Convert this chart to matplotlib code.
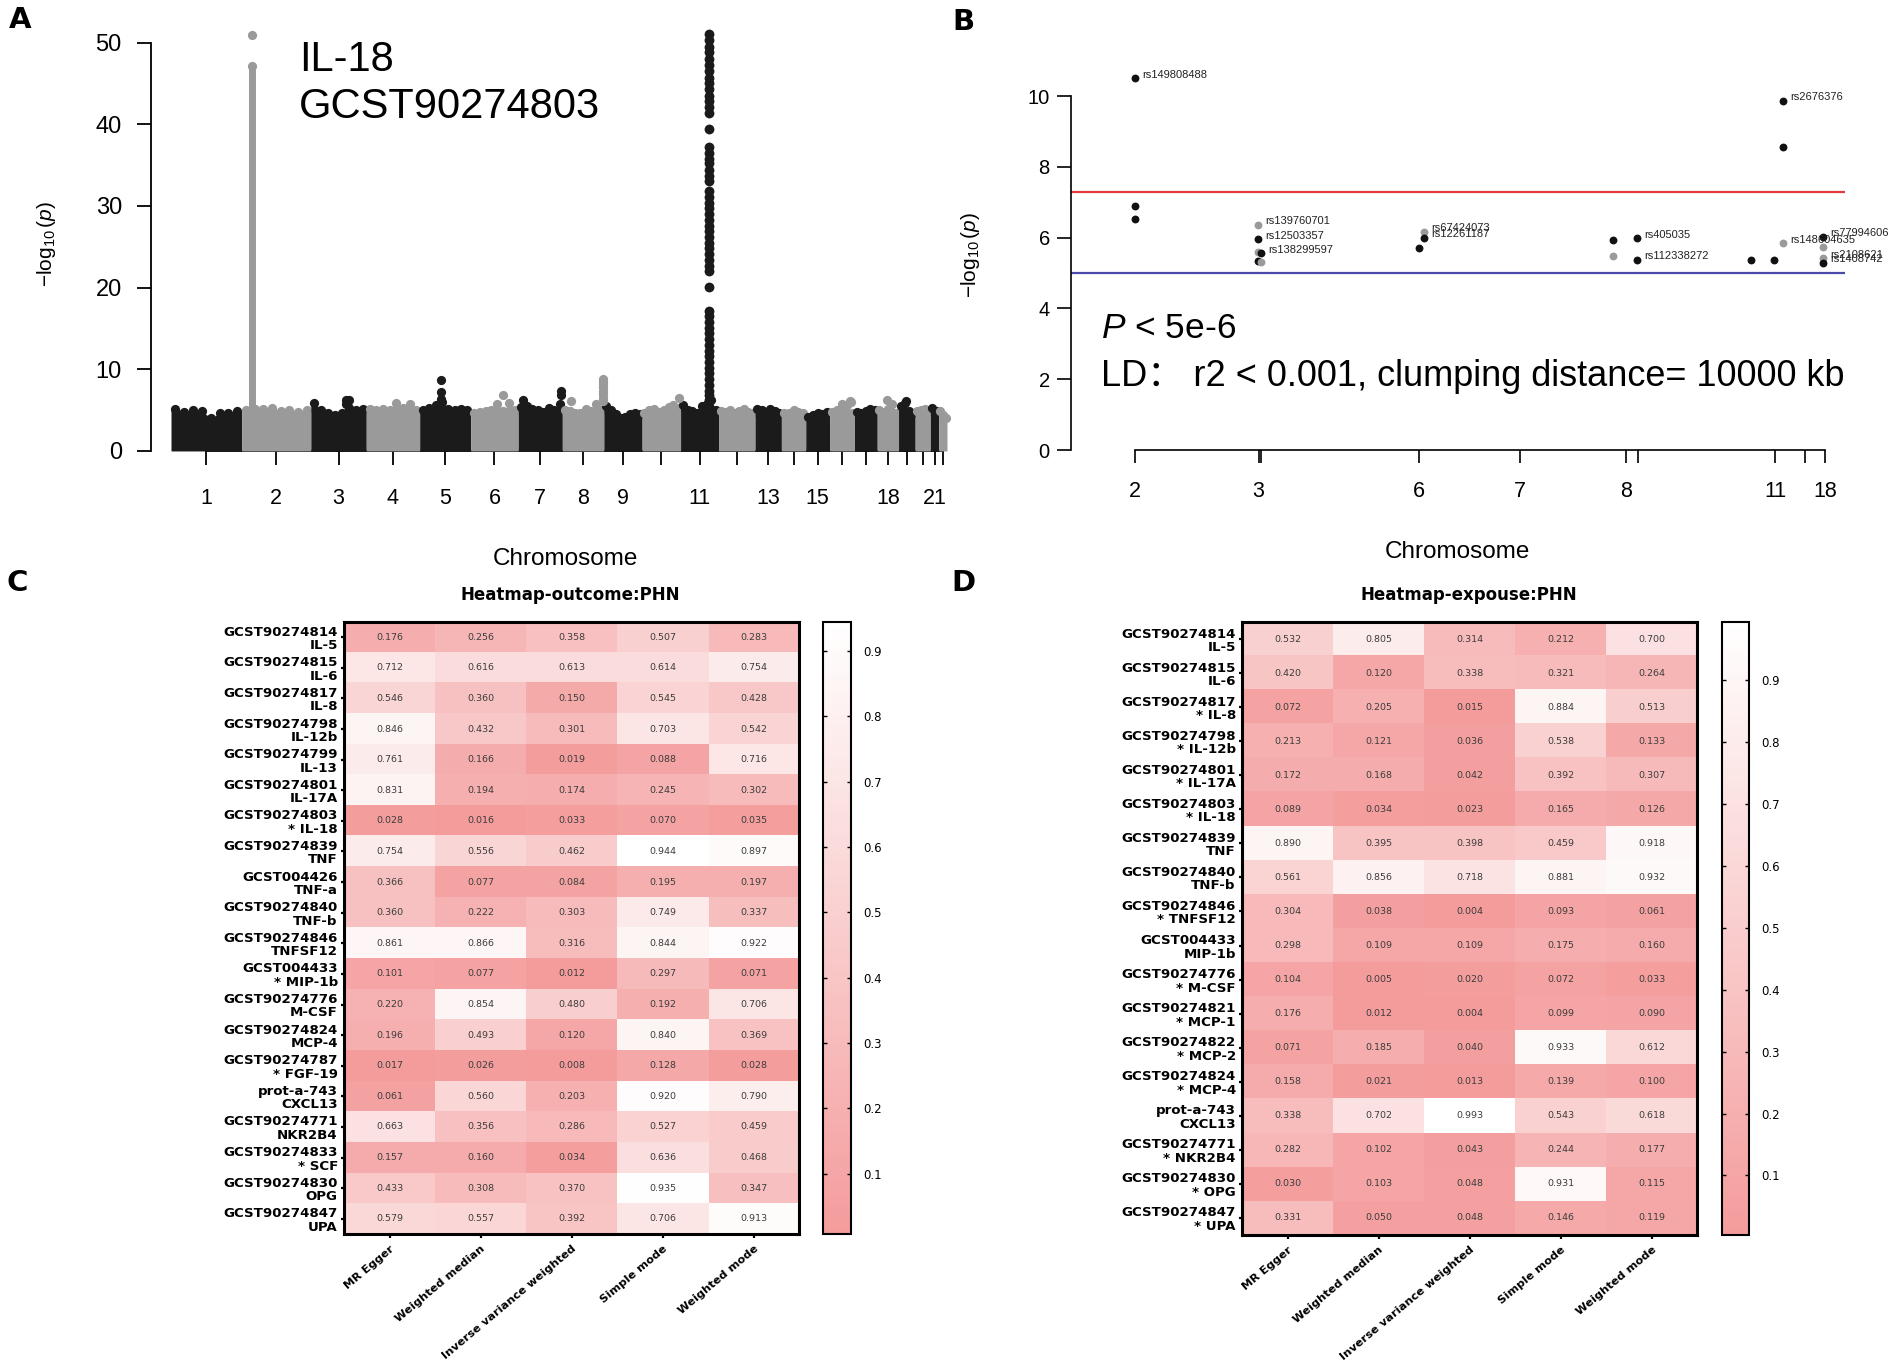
import numpy as np
import matplotlib
matplotlib.use("Agg")
import matplotlib.pyplot as plt
from matplotlib.colors import LinearSegmentedColormap

# ---------------- data ----------------
# Panel A: Manhattan plot (IL-18, GCST90274803)
chr_names = list(range(1, 23))
chr_len_mb = [255, 250, 200, 193, 184, 172, 159, 150, 138, 139, 137, 132,
              95, 88, 86, 90, 82, 77, 60, 55, 30, 30]
chr_labeled = [1, 2, 3, 4, 5, 6, 7, 8, 9, 11, 13, 15, 18, 21]
chr_envelope = [
    [5.2, 4.8, 5.0, 4.9, 4.0, 4.6, 4.7, 4.9],
    [5.0, 5.1, 5.2, 5.3, 4.9, 5.0, 4.8, 5.0],
    [5.9, 5.0, 4.6, 4.4, 4.6, 6.3, 5.0, 5.1],
    [5.1, 5.0, 5.2, 5.0, 5.9, 5.3, 5.8, 5.0],
    [5.0, 5.3, 5.6, 6.0, 5.2, 5.0, 5.1, 5.0],
    [4.7, 4.8, 4.9, 5.0, 5.7, 4.9, 5.9, 5.0],
    [5.4, 5.5, 5.2, 5.0, 4.8, 5.3, 5.0, 5.8],
    [5.0, 4.9, 4.6, 4.7, 5.2, 4.9, 5.8, 5.0],
    [5.5, 5.0, 4.5, 4.0, 4.2, 4.5, 4.7, 4.5],
    [4.6, 5.0, 5.1, 4.8, 5.0, 5.4, 5.6, 5.3],
    [5.6, 5.0, 4.9, 4.7, 5.5, 5.8, 6.2, 5.0],
    [4.9, 4.8, 5.0, 4.7, 4.9, 5.2, 4.8, 4.7],
    [5.2, 5.0, 4.8, 5.2, 4.9, 4.6],
    [4.6, 4.7, 5.0, 4.8, 4.6],
    [4.2, 4.4, 4.6, 4.5, 4.8],
    [4.8, 5.0, 5.8, 5.6, 4.6],
    [4.8, 4.6, 4.9, 5.1, 5.0],
    [5.0, 4.8, 5.2, 5.8, 4.7],
    [5.5, 5.9, 4.9, 4.6],
    [4.9, 5.0, 5.1, 4.8],
    [5.3, 4.8, 4.9],
    [4.9, 4.4, 4.0],
]
# isolated peak SNPs: chromosome, relative position within chromosome, -log10(p)
peak_chr = [3, 3, 5, 5, 5, 5, 6, 7, 7, 7, 8, 8, 8, 8, 8, 8, 8, 8, 8, 10, 16, 16, 18, 19]
peak_frac = [0.64, 0.64, 0.42, 0.42, 0.42, 0.42, 0.68, 0.11, 0.96, 0.96, 0.22,
             0.97, 0.97, 0.97, 0.97, 0.97, 0.97, 0.97, 0.97, 0.95, 0.80, 0.86, 0.45, 0.45]
peak_val = [6.3, 5.8, 8.7, 7.2, 6.4, 6.0, 6.9, 6.2, 7.3, 6.9, 6.1,
            8.8, 8.5, 8.2, 7.8, 7.4, 7.0, 6.5, 6.1, 6.5, 6.1, 6.0, 6.2, 6.1]
spike_chr, spike_frac = 2, 0.155
spike_range = [5.0, 47.1]
spike_top = [47.1, 50.9]
col_chr, col_frac = 11, 0.76
col_vals = [51.0, 50.3, 49.5, 48.8, 48.0, 47.2, 46.5, 45.7, 45.0, 44.3, 43.5, 42.8,
            42.1, 41.4, 39.4, 37.2, 36.5, 35.8, 35.2, 34.4, 33.7, 33.0,
            31.8, 31.1, 30.4, 29.7, 29.0, 28.3, 27.6, 26.9, 26.2, 25.5, 24.8, 24.1,
            23.4, 22.7, 22.0, 20.1, 17.2, 16.5, 15.8, 15.1, 14.4, 13.7, 13.0, 12.3,
            11.6, 10.9, 10.2, 9.5, 8.8, 8.1, 7.4, 6.8, 6.2]

# Panel B: clumped SNPs
b_tick_pos = [0, 123.5, 125.5, 284, 385, 491, 503, 640, 670, 690]
b_tick_lab = ["2", "3", "", "6", "7", "8", "", "11", "", "18"]
b_pos = [0, 0, 0, 123, 123, 123, 126, 123, 126, 289, 289, 284, 478, 478, 502, 502,
         616, 639, 648, 648, 648, 688, 688, 688, 688]
b_val = [10.50, 6.89, 6.52, 6.36, 5.96, 5.60, 5.56, 5.35, 5.32, 6.17, 6.00, 5.70,
         5.93, 5.48, 5.98, 5.37, 5.37, 5.37, 9.86, 8.55, 5.84, 6.03, 5.74, 5.41, 5.29]
b_gray = [0, 0, 0, 1, 0, 1, 0, 0, 1, 1, 0, 0, 0, 1, 0, 0, 0, 0, 0, 0, 1, 0, 1, 1, 0]
b_label = ["rs149808488", "", "", "rs139760701", "rs12503357", "", "rs138299597", "", "",
           "rs67424073", "rs12261187", "", "", "", "rs405035", "rs112338272",
           "", "", "rs2676376", "", "rs148604635", "rs77994606", "", "rs2108621", "rs1408742"]
genome_wide_line = 7.3
suggestive_line = 5.0

# Panel C / D heatmaps
methods = ["MR Egger", "Weighted median", "Inverse variance weighted", "Simple mode", "Weighted mode"]
c_rows = ["GCST90274814\nIL-5", "GCST90274815\nIL-6", "GCST90274817\nIL-8",
          "GCST90274798\nIL-12b", "GCST90274799\nIL-13", "GCST90274801\nIL-17A",
          "GCST90274803\n* IL-18", "GCST90274839\nTNF", "GCST004426\nTNF-a",
          "GCST90274840\nTNF-b", "GCST90274846\nTNFSF12", "GCST004433\n* MIP-1b",
          "GCST90274776\nM-CSF", "GCST90274824\nMCP-4", "GCST90274787\n* FGF-19",
          "prot-a-743\nCXCL13", "GCST90274771\nNKR2B4", "GCST90274833\n* SCF",
          "GCST90274830\nOPG", "GCST90274847\nUPA"]
c_vals = [
    [0.176, 0.256, 0.358, 0.507, 0.283],
    [0.712, 0.616, 0.613, 0.614, 0.754],
    [0.546, 0.360, 0.150, 0.545, 0.428],
    [0.846, 0.432, 0.301, 0.703, 0.542],
    [0.761, 0.166, 0.019, 0.088, 0.716],
    [0.831, 0.194, 0.174, 0.245, 0.302],
    [0.028, 0.016, 0.033, 0.070, 0.035],
    [0.754, 0.556, 0.462, 0.944, 0.897],
    [0.366, 0.077, 0.084, 0.195, 0.197],
    [0.360, 0.222, 0.303, 0.749, 0.337],
    [0.861, 0.866, 0.316, 0.844, 0.922],
    [0.101, 0.077, 0.012, 0.297, 0.071],
    [0.220, 0.854, 0.480, 0.192, 0.706],
    [0.196, 0.493, 0.120, 0.840, 0.369],
    [0.017, 0.026, 0.008, 0.128, 0.028],
    [0.061, 0.560, 0.203, 0.920, 0.790],
    [0.663, 0.356, 0.286, 0.527, 0.459],
    [0.157, 0.160, 0.034, 0.636, 0.468],
    [0.433, 0.308, 0.370, 0.935, 0.347],
    [0.579, 0.557, 0.392, 0.706, 0.913],
]
d_rows = ["GCST90274814\nIL-5", "GCST90274815\nIL-6", "GCST90274817\n* IL-8",
          "GCST90274798\n* IL-12b", "GCST90274801\n* IL-17A", "GCST90274803\n* IL-18",
          "GCST90274839\nTNF", "GCST90274840\nTNF-b", "GCST90274846\n* TNFSF12",
          "GCST004433\nMIP-1b", "GCST90274776\n* M-CSF", "GCST90274821\n* MCP-1",
          "GCST90274822\n* MCP-2", "GCST90274824\n* MCP-4", "prot-a-743\nCXCL13",
          "GCST90274771\n* NKR2B4", "GCST90274830\n* OPG", "GCST90274847\n* UPA"]
d_vals = [
    [0.532, 0.805, 0.314, 0.212, 0.700],
    [0.420, 0.120, 0.338, 0.321, 0.264],
    [0.072, 0.205, 0.015, 0.884, 0.513],
    [0.213, 0.121, 0.036, 0.538, 0.133],
    [0.172, 0.168, 0.042, 0.392, 0.307],
    [0.089, 0.034, 0.023, 0.165, 0.126],
    [0.890, 0.395, 0.398, 0.459, 0.918],
    [0.561, 0.856, 0.718, 0.881, 0.932],
    [0.304, 0.038, 0.004, 0.093, 0.061],
    [0.298, 0.109, 0.109, 0.175, 0.160],
    [0.104, 0.005, 0.020, 0.072, 0.033],
    [0.176, 0.012, 0.004, 0.099, 0.090],
    [0.071, 0.185, 0.040, 0.933, 0.612],
    [0.158, 0.021, 0.013, 0.139, 0.100],
    [0.338, 0.702, 0.993, 0.543, 0.618],
    [0.282, 0.102, 0.043, 0.244, 0.177],
    [0.030, 0.103, 0.048, 0.931, 0.115],
    [0.331, 0.050, 0.048, 0.146, 0.119],
]
cbar_ticks = [0.1, 0.2, 0.3, 0.4, 0.5, 0.6, 0.7, 0.8, 0.9]

# ---------------- style ----------------
plt.rcParams["font.family"] = ["Liberation Sans", "DejaVu Sans"]
plt.rcParams["mathtext.fontset"] = "custom"
plt.rcParams["mathtext.rm"] = "Liberation Sans"
plt.rcParams["mathtext.it"] = "Liberation Sans:italic"

W, H = 1901, 1369
fig = plt.figure(figsize=(W / 100, H / 100), dpi=100)


def fx(x):
    return x / W


def fy(y):
    return 1 - y / H


BLACK = "#1b1b1b"
GRAY = "#9a9a9a"

# ---------------- Panel A ----------------
axA = fig.add_axes([fx(151), fy(467.3), 806 / W, 441 / H])
lens = np.array(chr_len_mb, dtype=float)
starts = np.concatenate([[0], np.cumsum(lens)[:-1]])
total = lens.sum()
centers = starts + lens / 2
data_px = 806 - 20 - 10
axA.set_xlim(-total * 20 / data_px, total + total * 10 / data_px)
axA.set_ylim(-2, 52)
msA = 44
for i, env in enumerate(chr_envelope):
    col = BLACK if i % 2 == 0 else GRAY
    s, L = starts[i], lens[i]
    n = len(env)
    xs = s + (np.arange(n) + 0.5) / n * L
    xf = np.concatenate([[s], xs, [s + L]])
    yf = np.concatenate([[env[0]], env, [env[-1]]])
    axA.fill_between(xf, 0, yf, color=col, lw=0, zorder=2)
    axA.scatter(xs, env, s=msA, color=col, lw=0, zorder=2)

for c, f, v in zip(peak_chr, peak_frac, peak_val):
    col = BLACK if (c - 1) % 2 == 0 else GRAY
    axA.scatter(starts[c - 1] + f * lens[c - 1], v, s=msA, color=col, lw=0, zorder=3)

sx = starts[spike_chr - 1] + spike_frac * lens[spike_chr - 1]
axA.plot([sx, sx], spike_range, color=GRAY, lw=5, solid_capstyle="round", zorder=3)
axA.scatter([sx] * len(spike_top), spike_top, s=msA, color=GRAY, lw=0, zorder=3, clip_on=False)

cx = starts[col_chr - 1] + col_frac * lens[col_chr - 1]
axA.scatter([cx] * len(col_vals), col_vals, s=msA + 6, color=BLACK, lw=0, zorder=3, clip_on=False)

for sp in ["top", "right"]:
    axA.spines[sp].set_visible(False)
axA.spines["left"].set_bounds(0, 50)
axA.spines["bottom"].set_position(("data", 0))
axA.spines["bottom"].set_bounds(centers[0], centers[-1])
axA.spines["bottom"].set_zorder(0.5)
for sp in ["left", "bottom"]:
    axA.spines[sp].set_linewidth(1.3)
axA.set_yticks([0, 10, 20, 30, 40, 50])
axA.set_xticks(centers)
axA.set_xticklabels([str(c) if c in chr_labeled else "" for c in chr_names])
axA.tick_params(axis="y", length=10, width=1.3, pad=11, labelsize=17)
axA.tick_params(axis="x", length=10, width=1.3, pad=17, labelsize=15.5)

fig.text(fx(46), fy(244), r"$-\log_{10}(p)$", rotation=90, ha="center", va="center", fontsize=15)
fig.text(fx(565), fy(559), "Chromosome", ha="center", va="center", fontsize=17.5)
fig.text(fx(299), fy(60), "IL-18", ha="left", va="center", fontsize=30)
fig.text(fx(299), fy(107), "GCST90274803", ha="left", va="center", fontsize=30)

# ---------------- Panel B ----------------
axB = fig.add_axes([fx(1070.7), fy(450), 774.3 / W, 389.4 / H])
axB.set_xlim(-64.3, 710)
axB.set_ylim(0, 11)
axB.axhline(genome_wide_line, color="#e23a3a", lw=1.6, zorder=1)
axB.axhline(suggestive_line, color="#4a4aa8", lw=1.6, zorder=1)
for p, v, g, lab in zip(b_pos, b_val, b_gray, b_label):
    col = GRAY if g else "#111111"
    axB.scatter(p, v, s=32, color=col, lw=0, zorder=3)
    if lab:
        axB.annotate(lab, (p, v), xytext=(5.5, 2.5), textcoords="offset points",
                     ha="left", va="center", fontsize=8, color="#222222",
                     annotation_clip=False, zorder=4)
for sp in ["top", "right"]:
    axB.spines[sp].set_visible(False)
axB.spines["left"].set_bounds(0, 10)
axB.spines["bottom"].set_bounds(b_tick_pos[0], b_tick_pos[-1])
for sp in ["left", "bottom"]:
    axB.spines[sp].set_linewidth(1.2)
axB.set_yticks([0, 2, 4, 6, 8, 10])
axB.set_xticks(b_tick_pos)
axB.set_xticklabels(b_tick_lab)
axB.tick_params(axis="y", length=10, width=1.2, pad=5, labelsize=14.5)
axB.tick_params(axis="x", length=9.5, width=1.2, pad=13, labelsize=15.5)
fig.text(fx(970), fy(255), r"$-\log_{10}(p)$", rotation=90, ha="center", va="center", fontsize=15)
fig.text(fx(1457), fy(552), "Chromosome", ha="center", va="center", fontsize=17.5)
fig.text(fx(1101), fy(329), r"$P$ < 5e-6", ha="left", va="center", fontsize=25.5)
fig.text(fx(1101), fy(377), "LD\uff1a r2 < 0.001, clumping distance= 10000 kb", ha="left",
         va="center", fontsize=26, family=["Liberation Sans", "Noto Sans CJK SC"])

# ---------------- Panels C / D ----------------
cmap = LinearSegmentedColormap.from_list("pinkwhite", ["#F49C9C", "#FFFFFF"])
HF = "DejaVu Sans"


def heat(box, cbox, vals, rows, title, tx):
    data = np.array(vals)
    ax = fig.add_axes([fx(box[0]), fy(box[3]), (box[1] - box[0]) / W, (box[3] - box[2]) / H])
    im = ax.imshow(data, cmap=cmap, aspect="auto", interpolation="nearest",
                   vmin=data.min(), vmax=data.max())
    for i in range(data.shape[0]):
        for j in range(data.shape[1]):
            ax.text(j, i, f"{data[i, j]:.3f}", ha="center", va="center",
                    fontsize=6.8, color="#3c3c3c", family=HF)
    ax.set_yticks(range(len(rows)))
    ax.set_yticklabels(rows, family=HF, fontweight="bold", fontsize=9.6,
                       linespacing=1.05, multialignment="right")
    ax.set_xticks(range(len(methods)))
    ax.set_xticklabels(methods, rotation=40, ha="right", rotation_mode="anchor",
                       family=HF, fontweight="bold", fontsize=8.2)
    ax.tick_params(axis="y", length=2.5, width=1.6, pad=2)
    ax.tick_params(axis="x", length=3, width=1.6, pad=4)
    for sp in ax.spines.values():
        sp.set_linewidth(2.2)
    fig.text(fx(tx), fy(595), title, ha="center", va="center", family=HF,
             fontweight="bold", fontsize=12)
    cax = fig.add_axes([fx(cbox[0]), fy(box[3]), (cbox[1] - cbox[0]) / W, (box[3] - box[2]) / H])
    cb = fig.colorbar(im, cax=cax, ticks=cbar_ticks)
    cb.outline.set_linewidth(1.5)
    cax.set_yticklabels([f"{t:.1f}" for t in cbar_ticks], family=HF, fontsize=8.5)
    cax.tick_params(axis="y", direction="in", length=3, width=1.0, left=True, right=True, pad=9)
    return ax


heat((344, 799, 622, 1234), (823, 851), c_vals, c_rows, "Heatmap-outcome:PHN", 570)
heat((1242, 1697, 622, 1235), (1722, 1749), d_vals, d_rows, "Heatmap-expouse:PHN", 1469)

# ---------------- panel letters ----------------
for lab, x, y in [("A", 20, 20), ("B", 963, 22), ("C", 17, 583), ("D", 963, 583)]:
    fig.text(fx(x), fy(y), lab, ha="center", va="center", fontsize=21,
             fontweight="bold", family="DejaVu Sans")

fig.savefig("out.png", dpi=100)
